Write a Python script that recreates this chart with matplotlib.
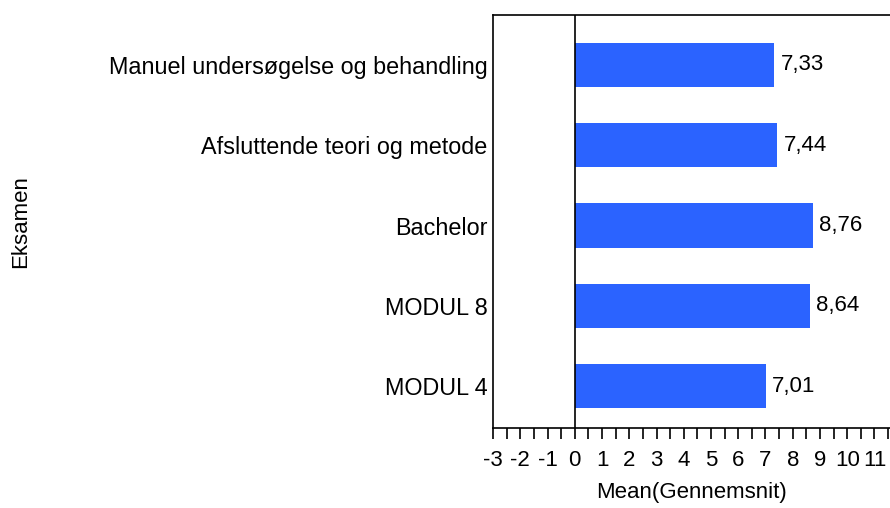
import matplotlib
matplotlib.use('Agg')
import matplotlib.pyplot as plt
from matplotlib.ticker import MultipleLocator

plt.rcParams['font.family'] = ['Liberation Sans', 'DejaVu Sans']
plt.rcParams['font.size'] = 16

# data (top to bottom)
eksamen = ['Manuel undersøgelse og behandling', 'Afsluttende teori og metode',
           'Bachelor', 'MODUL 8', 'MODUL 4']
gennemsnit = [7.33, 7.44, 8.76, 8.64, 7.01]
labels = ['7,33', '7,44', '8,76', '8,64', '7,01']

fig = plt.figure(figsize=(8.9, 5.08), dpi=100)
ax = fig.add_axes([0.554, 0.1575, 0.446, 0.8125])

pos = list(range(len(eksamen)))[::-1]
ax.barh(pos, gennemsnit, height=0.55, color='#2b63ff', zorder=2)
for p, v, t in zip(pos, gennemsnit, labels):
    ax.text(v + 0.22, p, t, va='center', ha='left', fontsize=16)

ax.axvline(0, color='black', lw=1.2, zorder=3)
ax.set_xlim(-3, 11.57)
ax.set_ylim(-0.523, 4.62)
ax.set_yticks(pos)
ax.set_yticklabels(eksamen, fontsize=16.8)
ax.tick_params(axis='y', length=0, pad=4)
ax.set_xticks(range(-3, 12))
ax.set_xticklabels([str(i) for i in range(-3, 12)])
ax.xaxis.set_minor_locator(MultipleLocator(0.5))
ax.tick_params(axis='x', which='both', direction='out', length=8, width=1.2, pad=8)
ax.spines['right'].set_visible(False)
for s in ['left', 'top', 'bottom']:
    ax.spines[s].set_linewidth(1.2)

ax.set_xlabel('Mean(Gennemsnit)', labelpad=8)
fig.text(0.023, 0.563, 'Eksamen', rotation=90, va='center', ha='center', fontsize=16)

fig.savefig('out.png', dpi=100)
